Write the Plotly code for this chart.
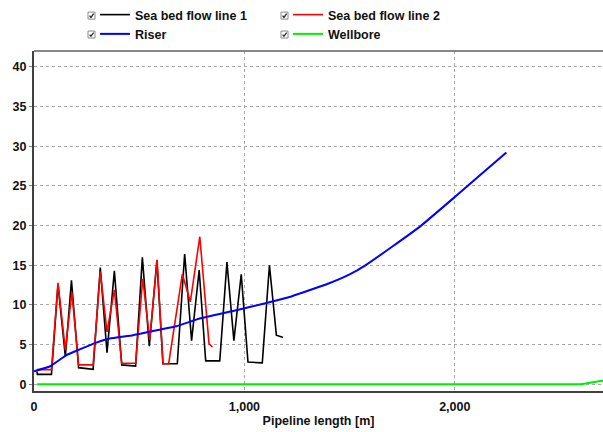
import plotly.graph_objects as go

# ---- data ----
names = ["Sea bed flow line 1", "Sea bed flow line 2", "Riser", "Wellbore"]
colors = ["#000000", "#ff0000", "#0000ff", "#00ee00"]

sb1_x = [14, 16, 83, 114, 149, 178, 212, 281, 315, 347, 382, 417, 483, 515, 548, 584, 613, 681, 716, 749, 785, 816, 883, 917, 950, 985, 1017, 1085, 1119, 1152, 1184]
sb1_y = [1.6, 1.25, 1.25, 12.6, 3.5, 13.1, 2.1, 1.9, 14.7, 4.0, 14.3, 2.45, 2.3, 16.0, 4.8, 15.6, 2.6, 2.6, 16.4, 5.5, 14.4, 2.95, 2.95, 15.4, 5.5, 13.85, 2.8, 2.7, 15.0, 6.2, 5.9]

sb2_x = [14, 83, 114, 149, 180, 212, 281, 315, 347, 382, 417, 483, 517, 550, 585, 613, 640, 705, 743, 788, 832, 848]
sb2_y = [1.85, 1.85, 12.8, 4.3, 11.6, 2.45, 2.45, 14.2, 6.6, 11.9, 2.65, 2.65, 13.3, 5.6, 15.7, 2.6, 2.6, 13.9, 10.4, 18.6, 5.1, 4.7]

riser_x = [0, 75, 154, 217, 296, 360, 471, 582, 677, 788, 946, 1105, 1215, 1262, 1400, 1500, 1575, 1700, 1840, 2000, 2118, 2245]
riser_y = [1.65, 2.25, 3.68, 4.4, 5.25, 5.77, 6.19, 6.82, 7.32, 8.29, 9.25, 10.25, 11.0, 11.43, 12.7, 13.85, 15.0, 17.3, 20.0, 23.6, 26.3, 29.2]

well_x = [15, 2600, 2700, 2760]
well_y = [0, 0, 0.45, 0.7]

x_ticks = [0, 1000, 2000]
x_ticklabels = ["0", "1,000", "2,000"]
y_ticks = [0, 5, 10, 15, 20, 25, 30, 35, 40]

series = [(sb1_x, sb1_y), (sb2_x, sb2_y), (riser_x, riser_y), (well_x, well_y)]
widths = [1.6, 1.6, 2, 2]

W, H = 603, 432
L, R, T, B = 34, 0, 50, 41
pw, ph = W - L - R, H - T - B
FONT = "Liberation Sans, Arial, sans-serif"
FS = 12.5

fig = go.Figure()
for (xs, ys), n, c, w in zip(series, names, colors, widths):
    fig.add_trace(go.Scatter(x=xs, y=ys, mode="lines", name=n,
                             line=dict(color=c, width=w, shape="spline", smoothing=0.3 if n == "Riser" else 0)))

def pp(px, py):
    return (px - L) / pw, (H - B - py) / ph

shapes = []
# top border
shapes.append(dict(type="line", xref="paper", yref="paper", x0=0, x1=1, y0=1, y1=1,
                   line=dict(color="#606060", width=1.5)))

# legend check boxes (decorative, like the original UI)
box_cols = [88, 281]
box_rows = [14.5, 33.5]
for by in box_rows:
    for bx in box_cols:
        x0, y0 = pp(bx, by + 3.5)
        x1, y1 = pp(bx + 7, by - 3.5)
        shapes.append(dict(type="rect", xref="paper", yref="paper", x0=x0, y0=y0, x1=x1, y1=y1,
                           line=dict(color="#8a8a8a", width=1), fillcolor="white"))
        a = pp(bx + 1.6, by)
        b = pp(bx + 3.0, by + 1.8)
        c = pp(bx + 5.6, by - 2.0)
        shapes.append(dict(type="path", xref="paper", yref="paper",
                           path=f"M{a[0]},{a[1]} L{b[0]},{b[1]} L{c[0]},{c[1]}",
                           line=dict(color="#222222", width=1.2)))

fig.update_layout(
    width=W, height=H,
    margin=dict(l=L, r=R, t=T, b=B),
    paper_bgcolor="white", plot_bgcolor="white",
    font=dict(family=FONT, size=FS, color="#111111"),
    showlegend=True,
    legend=dict(orientation="h", x=(95 - L) / pw, xanchor="left",
                y=(H - B + 1) / ph, yanchor="top",
                entrywidth=148, entrywidthmode="pixels",
                font=dict(family=FONT, size=FS, color="#111111", weight="bold"),
                bgcolor="rgba(0,0,0,0)", tracegroupgap=0, itemclick=False),
    xaxis=dict(range=[0, pw / 0.2104], tickvals=x_ticks, ticktext=x_ticklabels,
               showgrid=True, gridcolor="#a8a8a8", griddash="dot", gridwidth=1,
               showline=True, linecolor="#404040", linewidth=2,
               ticks="", zeroline=False, ticklabelstandoff=3,
               tickfont=dict(family=FONT, size=FS, color="#111111", weight="bold"),
               title=dict(text="<b>Pipeline length [m]</b>", standoff=3,
                          font=dict(family=FONT, size=FS, color="#111111"))),
    yaxis=dict(range=[-0.84, 42.0], tickvals=y_ticks,
               showgrid=True, gridcolor="#a8a8a8", griddash="dot", gridwidth=1,
               showline=True, linecolor="#404040", linewidth=2,
               ticks="outside", ticklen=3, tickcolor="#808080", zeroline=False,
               tickfont=dict(family=FONT, size=FS, color="#111111", weight="bold")),
    shapes=shapes,
)

fig.write_html("out.html")
